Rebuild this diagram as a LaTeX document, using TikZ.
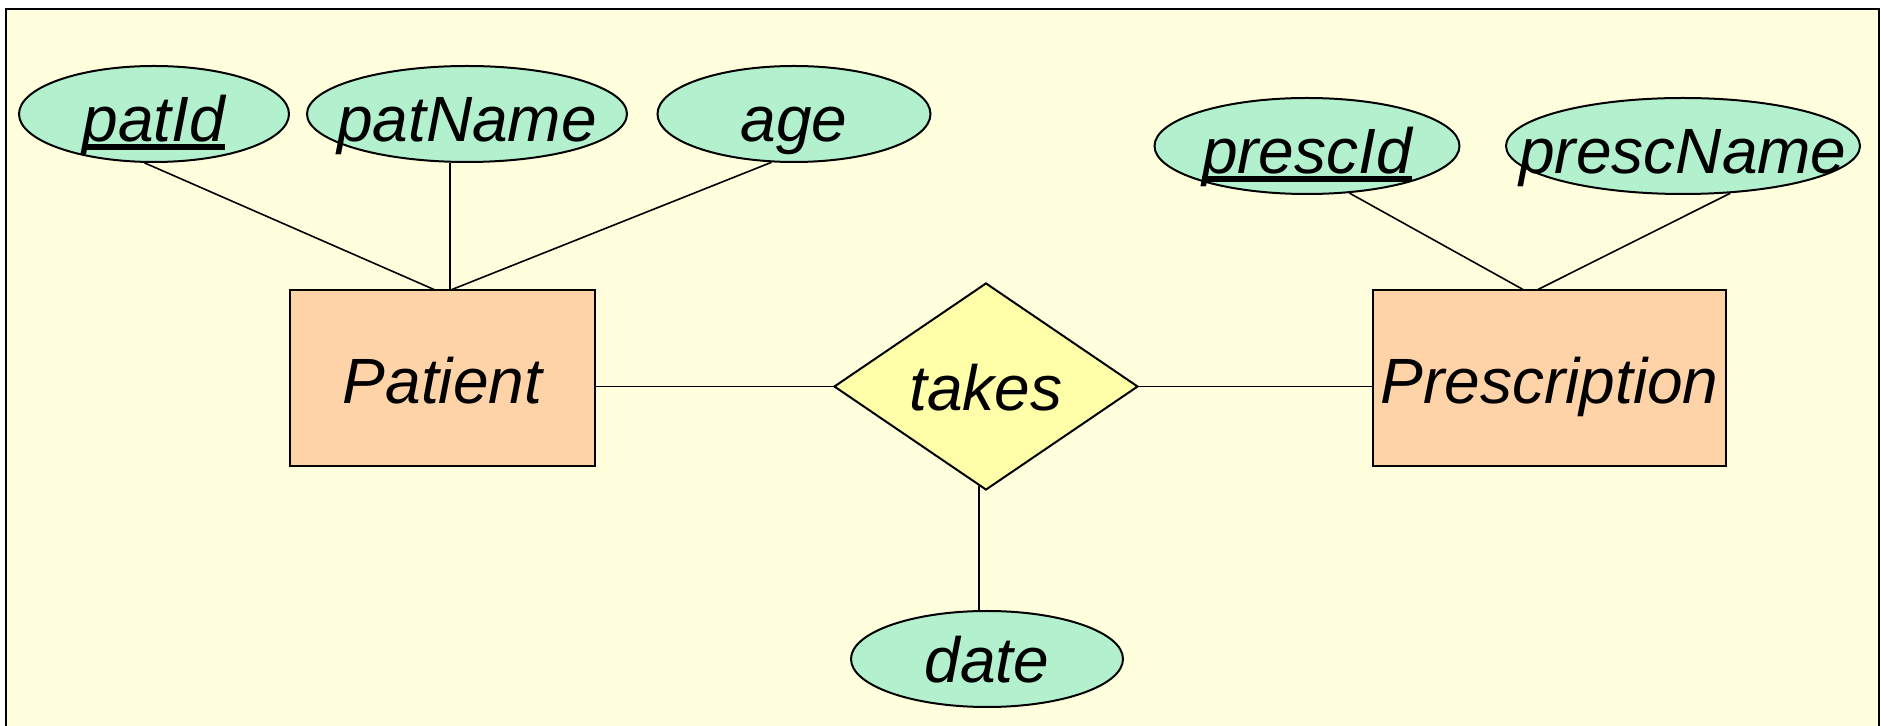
\documentclass[tikz,border=0pt]{standalone}
\usepackage{fontspec}
\setmainfont{Liberation Sans}
\usetikzlibrary{shapes.geometric,calc}
\definecolor{bgyellow}{RGB}{255,255,221}
\definecolor{attrfill}{RGB}{178,240,206}
\definecolor{entfill}{RGB}{255,211,168}
\definecolor{relfill}{RGB}{255,255,170}
\newcommand{\keyul}[1]{\sbox0{#1}\rlap{\raisebox{-0.13em}{\rule{\wd0}{0.095em}}}\usebox0}
\newcommand{\ctext}[1]{\makebox[0pt]{#1}}
\begin{document}
\begin{tikzpicture}[x=0.5pt,y=-0.5pt,
  lbl/.style={font=\itshape\fontsize{32}{38}\selectfont, text depth=0pt, inner sep=0pt},
  attr/.style={lbl, ellipse, draw, fill=attrfill, line width=1pt, minimum height=48pt, text height=28pt},
  battr/.style={attr, text height=24pt},
  entity/.style={lbl, rectangle, draw, fill=entfill, line width=1pt, minimum height=88pt, text height=25pt},
  rel/.style={lbl, diamond, aspect=1.46, draw, fill=relfill, line width=1pt, minimum width=152pt, minimum height=103.5pt, text height=24pt},
  conn/.style={line width=0.8pt}]
\useasboundingbox (0,0) rectangle (1881,726);
\fill[white] (0,0) rectangle (1881,726);
\fill[bgyellow] (6,9) rectangle (1879,726);
\draw[line width=1pt] (6,727) -- (6,9) -- (1879,9) -- (1879,727);

\node[attr, minimum width=135pt] (patId) at (154,114) {\ctext{\keyul{patId}}};
\node[attr, minimum width=160pt] (patName) at (467,114) {\ctext{patName}};
\node[attr, minimum width=136.5pt] (age) at (794,114) {\ctext{age}};
\node[attr, minimum width=152.5pt] (prescId) at (1307,146) {\ctext{\keyul{prescId}}};
\node[attr, minimum width=177pt] (prescName) at (1683,146) {\ctext{prescName}};

\node[entity, minimum width=152.5pt] (Patient) at (442.5,378.5) {\ctext{Patient}};
\node[entity, minimum width=176.5pt] (Prescription) at (1549.5,378.5) {\ctext{Prescription}};
\node[rel] (takes) at (986,386.5) {\ctext{takes}};
\node[battr, minimum width=136pt] (date) at (987,659) {\ctext{date}};

\coordinate (pn) at ($(Patient.north)+(7.5,0)$);
\draw[conn] (patId.259) -- ($(Patient.north)+(-8.5,0)$);
\draw[conn] (pn |- patName.south) -- (pn);
\draw[conn] (age.245) -- ($(Patient.north)+(9.5,0)$);
\draw[conn] (prescId.312) -- ($(Prescription.north)+(-26.5,0)$);
\draw[conn] (prescName.315) -- ($(Prescription.north)+(-11.5,0)$);
\draw[conn] (takes.west -| Patient.east) -- (takes.west);
\draw[conn] (takes.east) -- (takes.east -| Prescription.west);
\draw[conn] (takes.266) -- (takes.266 |- date.north);
\end{tikzpicture}
\end{document}
